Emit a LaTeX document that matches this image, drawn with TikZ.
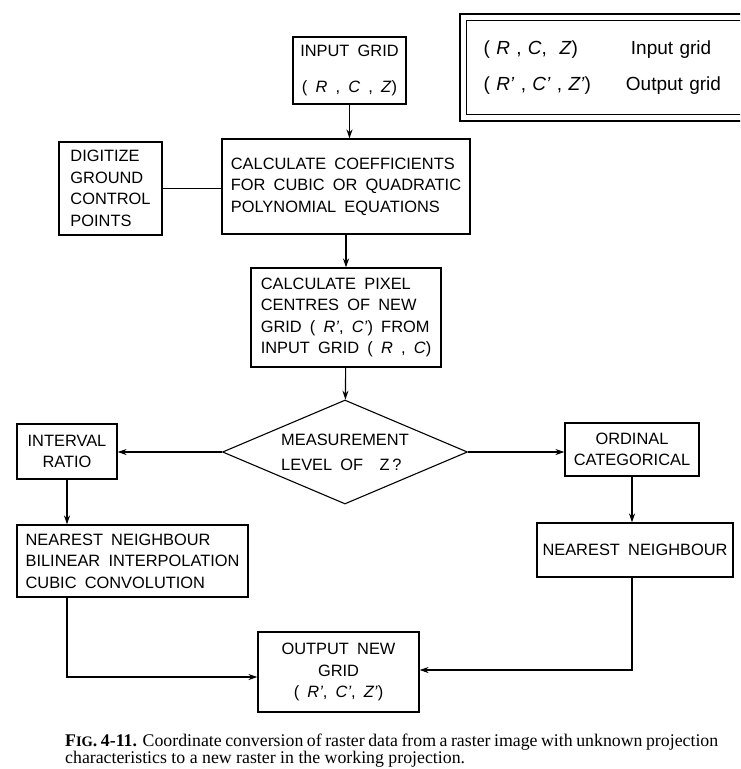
\documentclass[tikz,border=0pt]{standalone}
\usepackage{fontspec}
\setmainfont{Liberation Sans}[WordSpace=1.8]
\newfontfamily\capfont{Liberation Serif}
\usepackage{tikz}
\usetikzlibrary{arrows.meta,shapes.geometric}

\begin{document}
\begin{tikzpicture}[x=1pt,y=-1pt,
    box/.style={draw,line width=1.1pt,inner sep=2pt,
      font=\fontsize{16.4}{21.5}\selectfont},
    lbox/.style={box,align=left},
    cbox/.style={box,align=center},
    arr/.style={line width=1.1pt,-{Stealth[length=9pt,width=6pt]}},
    link/.style={line width=1.1pt}]
  \useasboundingbox (0,0) rectangle (740,769);
  \clip (0,0) rectangle (740,769);

  % top
  \node[cbox,minimum width=113pt,minimum height=67pt] (input) at (349.5,70.5)
    {INPUT\ GRID\\[14pt]( \textit{R} , \textit{C} , \textit{Z})};
  \node[draw,line width=1.2pt,anchor=north west,minimum width=334pt,
    minimum height=94pt,inner xsep=9pt,align=left,
    font=\fontsize{19}{24}\selectfont,text width=300pt] (legend) at (466,20)
    {\begin{tabular}{@{}l@{\hspace{40pt}}l@{}}
      ( \textit{R} , \textit{C}, \ \textit{Z}) & Input\ grid\\[12pt]
      ( \textit{R'} , \textit{C'} , \textit{Z'}) & \hspace{-5pt}Output\ grid
    \end{tabular}};
  \draw[line width=2.2pt] ([xshift=-6pt,yshift=6pt]legend.north west)
    rectangle ([xshift=6pt,yshift=-6pt]legend.south east);

  \node[lbox,minimum width=103pt,minimum height=93pt] (digitize) at (110.5,188.5)
    {DIGITIZE\\GROUND\\CONTROL\\POINTS};
  \node[lbox,minimum width=248pt,minimum height=95pt] (coeff) at (346,186.5)
    {CALCULATE\ COEFFICIENTS\\FOR\ CUBIC\ OR QUADRATIC\\POLYNOMIAL\ EQUATIONS};
  \node[lbox,minimum width=190pt,minimum height=99pt] (pixel) at (346,317.5)
    {CALCULATE\ PIXEL\\CENTRES\ OF\ NEW\\GRID\ ( \textit{R'}, \textit{C'}) FROM\\
     INPUT\ GRID\ ( \textit{R} , \textit{C})};

  % decision
  \node[diamond,draw,line width=1.1pt,inner sep=0pt,aspect=2.36,
    minimum width=245pt,minimum height=104pt,align=left,
    font=\fontsize{16.4}{25}\selectfont] (level) at (345,452)
    {MEASUREMENT\\LEVEL\ OF\ \ Z\,?};
  \node[cbox,minimum width=100pt,minimum height=55pt] (interval) at (67,451.5)
    {INTERVAL\\RATIO};
  \node[cbox,minimum width=134pt,minimum height=53pt] (ordinal) at (632,449.5)
    {ORDINAL\\CATEGORICAL};
  \node[lbox,minimum width=231pt,minimum height=72pt] (interp) at (132.5,561)
    {NEAREST\ NEIGHBOUR\\BILINEAR\ INTERPOLATION\\CUBIC\ CONVOLUTION};
  \node[cbox,minimum width=196pt,minimum height=54pt] (nearest) at (635,550)
    {NEAREST\ NEIGHBOUR};
  \node[cbox,minimum width=161pt,minimum height=80pt] (output) at (338.5,672)
    {OUTPUT\ NEW\\GRID\\( \textit{R'}, \textit{C'}, \textit{Z'})};

  % connectors
  \draw[arr] (input) -- (input |- coeff.north);
  \draw[link] (digitize.east) -- (coeff.west |- digitize.east);
  \draw[arr] (coeff) -- (pixel);
  \draw[arr] (pixel) -- (level);
  \draw[arr] (level.west) -- (interval.east |- level.west);
  \draw[arr] (level.east) -- (ordinal.west |- level.east);
  \draw[arr] (interval) -- (interval |- interp.north);
  \draw[arr] (ordinal.south) -- (ordinal.south |- nearest.north);
  \draw[arr] (interval |- interp.south) |- ([yshift=-5pt]output.west);
  \draw[arr] (ordinal |- nearest.south) |- ([yshift=2pt]output.east);

  \node[anchor=north west,inner sep=0pt,text width=653pt,align=justify,
    font=\capfont\fontsize{17.8}{15}\selectfont] (caption) at (65,734)
    {\textbf{F{\fontsize{14.5}{14}\selectfont IG}. 4-11.} Coordinate conversion
     of raster data from a raster image with unknown projection\linebreak
     characteristics to a new raster in the working projection.};
\end{tikzpicture}
\end{document}
